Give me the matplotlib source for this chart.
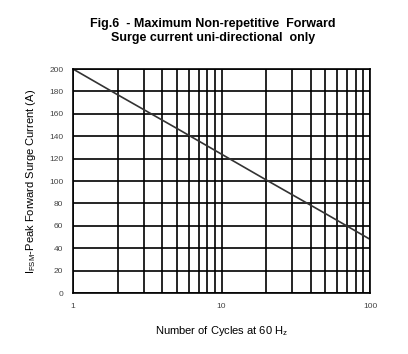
import matplotlib
matplotlib.use('Agg')
import matplotlib.pyplot as plt
from matplotlib.ticker import FixedLocator, NullFormatter

plt.rcParams['font.family'] = ['Liberation Sans', 'DejaVu Sans']

cycles = [1, 2, 5, 10, 20, 50, 100]
current = [200, 177, 147, 124, 101, 71, 48]
y_ticks = list(range(0, 201, 20))
x_ticks = [1, 10, 100]

fig = plt.figure(figsize=(4.08, 3.54), dpi=100)
ax = fig.add_axes([0.179, 0.172, 0.728, 0.633])

ax.plot(cycles, current, color='#333333', lw=1.2)
ax.set_xscale('log')
ax.set_xlim(1, 100)
ax.set_ylim(0, 200)

ax.set_xticks(x_ticks)
ax.set_xticklabels([str(v) for v in x_ticks])
ax.xaxis.set_minor_locator(FixedLocator([m * d for d in (1, 10) for m in range(2, 10)]))
ax.xaxis.set_minor_formatter(NullFormatter())
ax.set_yticks(y_ticks)

ax.grid(True, which='both', axis='x', color='black', lw=1.2)
ax.grid(True, which='major', axis='y', color='black', lw=1.2)
ax.tick_params(which='both', length=0, labelsize=6, colors='#444444', pad=7)
ax.tick_params(axis='y', pad=7)
for s in ax.spines.values():
    s.set_linewidth(1.2)

ax.set_xlabel('Number of Cycles at 60 H$_\\mathregular{z}$', fontsize=8, labelpad=10)
ax.set_ylabel('I$_\\mathregular{FSM}$-Peak Forward Surge Current (A)', fontsize=8, labelpad=8)
fig.text(0.522, 0.95, 'Fig.6  - Maximum Non-repetitive  Forward\nSurge current uni-directional  only',
         ha='center', va='top', fontsize=9, fontweight='bold', linespacing=1.3)

fig.savefig('out.png', dpi=100)
